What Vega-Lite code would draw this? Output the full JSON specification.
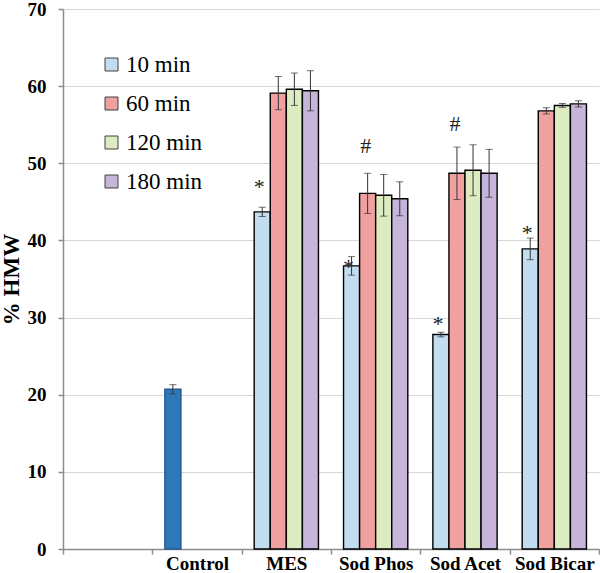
{
  "$schema": "https://vega.github.io/schema/vega-lite/v6.json",
  "width": 536,
  "height": 540,
  "autosize": "none",
  "padding": {"left": 63, "top": 9, "right": 1, "bottom": 24},
  "background": "white",
  "config": {
    "view": {"stroke": null},
    "font": "Liberation Serif",
    "axisY": {
      "titleFont": "Liberation Serif", "titleFontSize": 23, "titleFontWeight": "bold", "titleColor": "black",
      "titlePadding": 4,
      "labelFont": "Liberation Serif", "labelFontSize": 19, "labelFontWeight": "bold", "labelColor": "black",
      "domainColor": "#8c8c8c", "domainWidth": 1.5, "tickColor": "#8c8c8c", "tickWidth": 1.5, "tickSize": 5, "labelPadding": 12,
      "grid": true, "gridColor": "#d6d6d6", "gridWidth": 1
    },
    "axisX": {
      "labelAngle": 0, "labelFont": "Liberation Serif", "labelFontSize": 19, "labelFontWeight": "bold",
      "labelColor": "black", "domainColor": "#8c8c8c", "domainWidth": 1.5, "tickColor": "#8c8c8c", "tickWidth": 1.5, "tickSize": 5, "tickBand": "extent",
      "labelPadding": 0, "grid": false
    }
  },
  "datasets": {
    "bars": [
      {"group": "Control", "time": "10 min", "series": "Control", "value": 20.7, "err": 0.6},
      {"group": "MES", "time": "10 min", "series": "10 min", "value": 43.7, "err": 0.6},
      {"group": "MES", "time": "60 min", "series": "60 min", "value": 59.1, "err": 2.15},
      {"group": "MES", "time": "120 min", "series": "120 min", "value": 59.6, "err": 2.1},
      {"group": "MES", "time": "180 min", "series": "180 min", "value": 59.4, "err": 2.6},
      {"group": "Sod Phos", "time": "10 min", "series": "10 min", "value": 36.7, "err": 1.2},
      {"group": "Sod Phos", "time": "60 min", "series": "60 min", "value": 46.1, "err": 2.6},
      {"group": "Sod Phos", "time": "120 min", "series": "120 min", "value": 45.85, "err": 2.7},
      {"group": "Sod Phos", "time": "180 min", "series": "180 min", "value": 45.4, "err": 2.2},
      {"group": "Sod Acet", "time": "10 min", "series": "10 min", "value": 27.8, "err": 0.3},
      {"group": "Sod Acet", "time": "60 min", "series": "60 min", "value": 48.7, "err": 3.4},
      {"group": "Sod Acet", "time": "120 min", "series": "120 min", "value": 49.1, "err": 3.3},
      {"group": "Sod Acet", "time": "180 min", "series": "180 min", "value": 48.7, "err": 3.1},
      {"group": "Sod Bicar", "time": "10 min", "series": "10 min", "value": 38.9, "err": 1.4},
      {"group": "Sod Bicar", "time": "60 min", "series": "60 min", "value": 56.8, "err": 0.4},
      {"group": "Sod Bicar", "time": "120 min", "series": "120 min", "value": 57.5, "err": 0.25},
      {"group": "Sod Bicar", "time": "180 min", "series": "180 min", "value": 57.7, "err": 0.4}
    ],
    "marks": [
      {"group": "MES", "time": "10 min", "sym": "*", "pos": 47.3},
      {"group": "Sod Phos", "time": "10 min", "sym": "*", "pos": 36.9},
      {"group": "Sod Acet", "time": "10 min", "sym": "*", "pos": 29.6},
      {"group": "Sod Bicar", "time": "10 min", "sym": "*", "pos": 41.4},
      {"group": "Sod Phos", "time": "60 min", "sym": "#", "pos": 52.2},
      {"group": "Sod Acet", "time": "60 min", "sym": "#", "pos": 55.1}
    ]
  },
  "encoding": {
    "x": {
      "field": "group", "type": "nominal",
      "scale": {"domain": ["", "Control", "MES", "Sod Phos", "Sod Acet", "Sod Bicar"], "paddingInner": 0, "paddingOuter": 0},
      "sort": null,
      "axis": {"title": null}
    },
    "xOffset": {
      "field": "time", "type": "nominal",
      "scale": {"domain": ["10 min", "60 min", "120 min", "180 min"], "paddingInner": 0, "paddingOuter": 0.78}
    }
  },
  "layer": [
    {
      "data": {"name": "bars"},
      "mark": {"type": "bar", "stroke": "black", "strokeWidth": 1.4},
      "encoding": {
        "y": {
          "field": "value", "type": "quantitative",
          "scale": {"domain": [0, 70], "nice": false},
          "axis": {"title": "% HMW", "values": [0, 10, 20, 30, 40, 50, 60, 70]}
        },
        "color": {
          "field": "series", "type": "nominal",
          "scale": {
            "domain": ["10 min", "60 min", "120 min", "180 min", "Control"],
            "range": ["#c2dcf0", "#f0a09e", "#dcecc0", "#c6b4da", "#2e78ba"]
          },
          "legend": {
            "values": ["10 min", "60 min", "120 min", "180 min"],
            "title": null, "orient": "none", "legendX": 37, "legendY": 44,
            "symbolType": "square", "symbolSize": 169, "symbolStrokeColor": "#404040", "symbolStrokeWidth": 1,
            "labelFont": "Liberation Serif", "labelFontSize": 23, "labelColor": "black", "labelOffset": 3,
            "rowPadding": 15
          }
        },
        "stroke": {
          "condition": {"test": "datum.series === 'Control'", "value": "#1f5a90"},
          "value": "black"
        }
      }
    },
    {
      "data": {"name": "bars"},
      "transform": [
        {"calculate": "datum.value - datum.err", "as": "lo"},
        {"calculate": "datum.value + datum.err", "as": "hi"}
      ],
      "mark": {"type": "rule", "color": "#333333", "strokeWidth": 1},
      "encoding": {
        "y": {"field": "lo", "type": "quantitative"},
        "y2": {"field": "hi"}
      }
    },
    {
      "data": {"name": "bars"},
      "transform": [{"calculate": "datum.value - datum.err", "as": "lo"}],
      "mark": {"type": "tick", "color": "#333333", "size": 7, "thickness": 1},
      "encoding": {"y": {"field": "lo", "type": "quantitative"}}
    },
    {
      "data": {"name": "bars"},
      "transform": [{"calculate": "datum.value + datum.err", "as": "hi"}],
      "mark": {"type": "tick", "color": "#333333", "size": 7, "thickness": 1},
      "encoding": {"y": {"field": "hi", "type": "quantitative"}}
    },
    {
      "data": {"name": "marks"},
      "transform": [{"filter": "datum.sym === '*'"}],
      "mark": {"type": "text", "font": "Liberation Serif", "fontSize": 22, "color": "#222222", "baseline": "middle", "align": "center", "dx": -3, "dy": 3},
      "encoding": {
        "y": {"field": "pos", "type": "quantitative"},
        "text": {"field": "sym"}
      }
    },
    {
      "data": {"name": "marks"},
      "transform": [{"filter": "datum.sym === '#'"}],
      "mark": {"type": "text", "font": "Liberation Serif", "fontSize": 22, "color": "#222222", "baseline": "middle", "align": "center", "dx": -2, "dy": 0},
      "encoding": {
        "y": {"field": "pos", "type": "quantitative"},
        "text": {"field": "sym"}
      }
    }
  ]
}
